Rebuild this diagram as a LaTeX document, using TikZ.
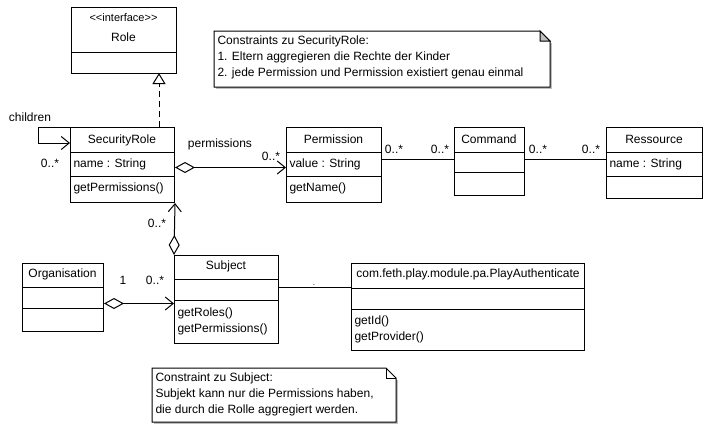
\documentclass[tikz,border=0pt]{standalone}
\usepackage{fontspec}
\setmainfont{Liberation Sans}
\usetikzlibrary{arrows.meta,calc}
\begin{document}
\begin{tikzpicture}[x=1pt,y=-1pt,line width=1pt,
  font=\fontsize{12}{16}\selectfont,
  box/.style={draw,fill=white,inner sep=0pt,anchor=north west},
  ttl/.style={inner sep=0pt,anchor=base},
  attr/.style={inner sep=0pt,anchor=base west},
  notebox/.style={inner sep=0pt,anchor=north west},
  notetext/.style={inner sep=0pt,anchor=north west,align=left},
  assoc/.style={-{Straight Barb[length=8pt,width=13pt]}},
  aggr/.style={{Diamond[open,length=20pt,width=11pt,fill=white]}-{Straight Barb[length=8pt,width=13pt]}},
  plain/.style={-},
  realize/.style={dash pattern=on 6pt off 4pt,-{Triangle[open,length=11pt,width=13pt,fill=white]}}
]
\useasboundingbox (0,0) rectangle (721,432);
\fill[white] (0,0) rectangle (721,432);

% ---------- classes ----------
\node[box,minimum width=105pt,minimum height=66pt] (role) at (71,7) {};
\draw ([yshift=-45pt]role.north west) -- ([yshift=-45pt]role.north east);
\node[ttl,font=\fontsize{11}{14}\selectfont] (roleS) at (123.5,21) {<{}<interface>{}>};
\node[ttl] (roleT) at (123.5,41) {Role};

\node[box,minimum width=104pt,minimum height=75pt] (sr) at (70,127) {};
\draw ([yshift=-25pt]sr.north west) -- ([yshift=-25pt]sr.north east);
\draw ([yshift=-49pt]sr.north west) -- ([yshift=-49pt]sr.north east);
\node[ttl] (srT) at (122,143) {SecurityRole};
\node[attr] (srA) at (73,167) {name : String};
\node[attr] (srM) at (73,191) {getPermissions()};

\node[box,minimum width=95pt,minimum height=75pt] (perm) at (286,127) {};
\draw ([yshift=-25pt]perm.north west) -- ([yshift=-25pt]perm.north east);
\draw ([yshift=-49pt]perm.north west) -- ([yshift=-49pt]perm.north east);
\node[ttl] (permT) at (333.5,143) {Permission};
\node[attr] (permA) at (289,167) {value : String};
\node[attr] (permM) at (289,191) {getName()};

\node[box,minimum width=70pt,minimum height=68pt] (cmd) at (454,127) {};
\draw ([yshift=-25pt]cmd.north west) -- ([yshift=-25pt]cmd.north east);
\draw ([yshift=-45pt]cmd.north west) -- ([yshift=-45pt]cmd.north east);
\node[ttl] (cmdT) at (489,143) {Command};

\node[box,minimum width=96pt,minimum height=71pt] (res) at (606,127) {};
\draw ([yshift=-25pt]res.north west) -- ([yshift=-25pt]res.north east);
\draw ([yshift=-49pt]res.north west) -- ([yshift=-49pt]res.north east);
\node[ttl] (resT) at (654,143) {Ressource};
\node[attr] (resA) at (609,167) {name : String};

\node[box,minimum width=104pt,minimum height=88pt] (subj) at (174,255) {};
\draw ([yshift=-24pt]subj.north west) -- ([yshift=-24pt]subj.north east);
\draw ([yshift=-45pt]subj.north west) -- ([yshift=-45pt]subj.north east);
\node[ttl] (subjT) at (226,269) {Subject};
\node[attr] (subjM1) at (177,316) {getRoles()};
\node[attr] (subjM2) at (177,332) {getPermissions()};

\node[box,minimum width=81pt,minimum height=68pt] (org) at (22,263) {};
\draw ([yshift=-24pt]org.north west) -- ([yshift=-24pt]org.north east);
\draw ([yshift=-45pt]org.north west) -- ([yshift=-45pt]org.north east);
\node[ttl] (orgT) at (62.5,277) {Organisation};

\node[box,minimum width=233pt,minimum height=87pt] (pa) at (351,263) {};
\draw ([yshift=-25pt]pa.north west) -- ([yshift=-25pt]pa.north east);
\draw ([yshift=-46pt]pa.north west) -- ([yshift=-46pt]pa.north east);
\node[ttl] (paT) at (468,277) {com.feth.play.module.pa.PlayAuthenticate};
\node[attr] (paM1) at (354,324) {getId()};
\node[attr] (paM2) at (354,340) {getProvider()};

% ---------- notes ----------
\node[notebox,minimum width=335pt,minimum height=55pt] (note1) at (214,31) {};
\fill[black!25] ([xshift=2pt,yshift=-12pt]note1.north east) rectangle ([xshift=2pt,yshift=-2pt]note1.south west);
\draw[fill=white] (note1.north west) -- ([xshift=-10pt]note1.north east) -- ([yshift=-10pt]note1.north east) -- (note1.south east) -- (note1.south west) -- cycle;
\draw[fill=black!25] ([xshift=-10pt]note1.north east) -- ([xshift=-10pt,yshift=-10pt]note1.north east) -- ([yshift=-10pt]note1.north east) -- cycle;
\node[notetext] (note1T) at (217,35) {Constraints zu SecurityRole:\\1. Eltern aggregieren die Rechte der Kinder\\2. jede Permission und Permission existiert genau einmal};

\node[notebox,minimum width=243pt,minimum height=53pt] (note2) at (152,368) {};
\fill[black!25] ([xshift=2pt,yshift=-12pt]note2.north east) rectangle ([xshift=2pt,yshift=-2pt]note2.south west);
\draw[fill=white] (note2.north west) -- ([xshift=-10pt]note2.north east) -- ([yshift=-10pt]note2.north east) -- (note2.south east) -- (note2.south west) -- cycle;
\draw ([xshift=-10pt]note2.north east) -- ([xshift=-10pt,yshift=-10pt]note2.north east) -- ([yshift=-10pt]note2.north east);
\node[notetext] (note2T) at (155,372) {Constraint zu Subject:\\Subjekt kann nur die Permissions haben,\\die durch die Rolle aggregiert werden.};

% ---------- connectors ----------
\coordinate (realTop) at (159,73);
\coordinate (realBot) at (159,127);
\draw[realize] (realBot) -- (realTop);

\coordinate (loopEnd) at (70,143);
\draw[assoc] (sr.north west) -- ++(-32,0) |- (loopEnd);
\node[ttl] (lChildren) at (30,121) {children};
\node[ttl] (lChildM) at (50,167) {0..*};

\draw[aggr] ([yshift=-2.5pt]sr.east) -- ([yshift=-2.5pt]perm.west);
\node[ttl] (lPerms) at (220,147) {permissions};
\node[ttl] (lPermM) at (271,160) {0..*};

\draw[plain] ([yshift=5.5pt]perm.east) -- ([yshift=5.5pt]perm.east -| cmd.west);
\node[ttl] (lPC1) at (394,153) {0..*};
\node[ttl] (lPC2) at (440,153) {0..*};

\draw[plain] ([yshift=5.5pt]perm.east -| cmd.east) -- ([yshift=5.5pt]perm.east -| res.west);
\node[ttl] (lCR1) at (538,153) {0..*};
\node[ttl] (lCR2) at (591,153) {0..*};

\draw[aggr] (subj.north west) -- (sr.south east);
\node[ttl] (lSRM) at (157,227) {0..*};

\draw[aggr] ([yshift=-6pt]org.east) -- ([yshift=-6pt]org.east -| subj.west);
\node[ttl] (lOne) at (123,284) {1};
\node[ttl] (lOrgM) at (155,284) {0..*};

\draw[plain] ([yshift=12pt]subj.east) -- ([yshift=12pt]subj.east -| pa.west);
\node[ttl,font=\fontsize{8}{8}\selectfont] (lDot) at (314,285) {.};
\end{tikzpicture}
\end{document}
